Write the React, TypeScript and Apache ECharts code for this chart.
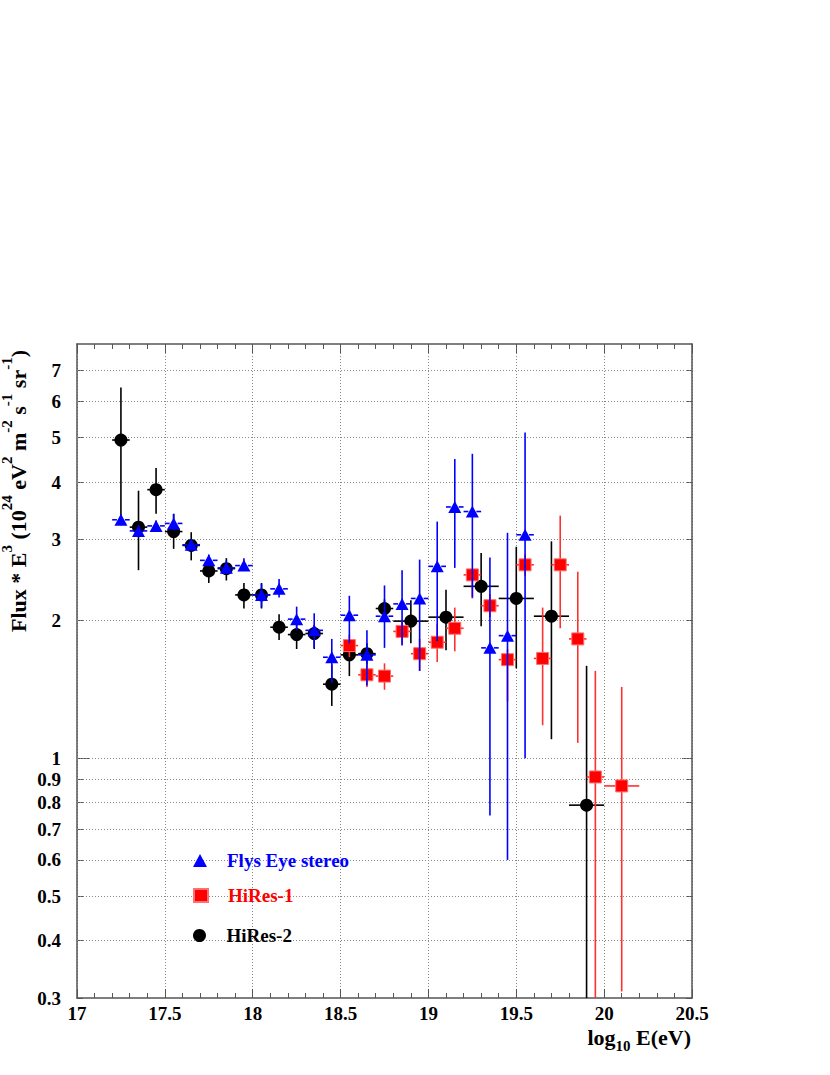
import React, { useEffect, useRef } from 'react';
import * as echarts from 'echarts';

// ---------- data ----------
const Y_MIN = 0.3;
const Y_MAX = 8;
const yTickValues = [0.3, 0.4, 0.5, 0.6, 0.7, 0.8, 0.9, 1, 2, 3, 4, 5, 6, 7];
const yGridValues = [0.4, 0.5, 0.6, 0.7, 0.8, 0.9, 1, 2, 3, 4, 5, 6, 7];

// Fly's Eye stereo
const flyX = [17.25, 17.35, 17.45, 17.55, 17.65, 17.75, 17.85, 17.95, 18.05, 18.15, 18.25, 18.35, 18.45, 18.55, 18.65, 18.75, 18.85, 18.95, 19.05, 19.15, 19.25, 19.35, 19.45, 19.55];
const flyY = [3.31, 3.13, 3.21, 3.25, 2.92, 2.70, 2.60, 2.63, 2.27, 2.34, 2.01, 1.90, 1.66, 2.05, 1.68, 2.04, 2.17, 2.23, 2.62, 3.53, 3.45, 1.74, 1.85, 3.07];
const flyLo = [3.22, 3.05, 3.13, 3.14, 2.85, 2.63, 2.52, 2.57, 2.13, 2.24, 1.90, 1.74, 1.46, 1.78, 1.44, 1.74, 1.76, 1.55, 1.80, 2.60, 2.24, 0.75, 0.60, 1.00];
const flyHi = [3.40, 3.22, 3.30, 3.41, 3.00, 2.78, 2.70, 2.73, 2.40, 2.46, 2.14, 2.07, 1.82, 2.26, 1.90, 2.38, 2.57, 2.71, 3.28, 4.49, 4.61, 2.74, 3.10, 5.13];
const flyXe = [0.05, 0.05, 0.05, 0.05, 0.05, 0.05, 0.05, 0.05, 0.05, 0.05, 0.05, 0.05, 0.05, 0.05, 0.05, 0.05, 0.05, 0.05, 0.05, 0.05, 0.05, 0.05, 0.05, 0.05];

// HiRes-1
const h1X = [18.55, 18.65, 18.75, 18.85, 18.95, 19.05, 19.15, 19.25, 19.35, 19.45, 19.55, 19.65, 19.75, 19.85, 19.95, 20.1];
const h1Y = [1.76, 1.52, 1.51, 1.89, 1.69, 1.79, 1.92, 2.51, 2.15, 1.64, 2.64, 1.65, 2.64, 1.82, 0.91, 0.87];
const h1Lo = [1.66, 1.43, 1.41, 1.77, 1.55, 1.62, 1.71, 2.23, 2.03, 1.33, 2.50, 1.18, 1.92, 1.08, 0.1, 0.31];
const h1Hi = [1.86, 1.60, 1.61, 2.00, 1.82, 1.96, 2.13, 2.58, 2.28, 1.73, 2.78, 2.13, 3.38, 2.55, 1.55, 1.43];
const h1Xe = [0.05, 0.05, 0.05, 0.05, 0.05, 0.05, 0.05, 0.05, 0.05, 0.05, 0.05, 0.05, 0.05, 0.05, 0.05, 0.1];

// HiRes-2
const h2X = [17.25, 17.35, 17.45, 17.55, 17.65, 17.75, 17.85, 17.95, 18.05, 18.15, 18.25, 18.35, 18.45, 18.55, 18.65, 18.75, 18.9, 19.1, 19.3, 19.5, 19.7, 19.9];
const h2Y = [4.94, 3.19, 3.85, 3.12, 2.91, 2.56, 2.59, 2.27, 2.27, 1.93, 1.86, 1.87, 1.45, 1.68, 1.69, 2.12, 1.99, 2.03, 2.37, 2.23, 2.04, 0.79];
const h2Lo = [3.35, 2.57, 3.41, 2.86, 2.70, 2.41, 2.44, 2.12, 2.12, 1.81, 1.73, 1.73, 1.30, 1.51, 1.60, 2.02, 1.78, 1.72, 1.94, 1.57, 1.10, 0.1];
const h2Hi = [6.43, 3.83, 4.29, 3.41, 3.11, 2.65, 2.73, 2.41, 2.41, 2.06, 1.97, 1.95, 1.60, 1.76, 1.78, 2.22, 2.21, 2.33, 2.80, 2.89, 2.97, 1.59];
const h2Xe = [0.05, 0.05, 0.05, 0.05, 0.05, 0.05, 0.05, 0.05, 0.05, 0.05, 0.05, 0.05, 0.05, 0.05, 0.05, 0.05, 0.1, 0.1, 0.1, 0.1, 0.1, 0.1];

const seriesNames = ['Flys Eye stereo', 'HiRes-1', 'HiRes-2'];

// ---------- styles ----------
const FONT = "'Liberation Serif', 'DejaVu Serif', serif";
const AX = '#555';
const GRID = '#888';
const BLUE = '#0000ff';
const RED = '#ff0000';
const BLACK = '#000000';

const rows = (xs: number[], ys: number[], lo: number[], hi: number[], xe: number[]) =>
  xs.map((x, i) => [x, ys[i], lo[i], hi[i], xe[i]]);

const makeErrorBars = (color: string) => (_params: any, api: any) => {
  const x = api.value(0);
  const y = api.value(1);
  const lo = api.value(2);
  const hi = api.value(3);
  const xe = api.value(4);
  const c = api.coord([x, y]);
  const l = api.coord([x - xe, y]);
  const r = api.coord([x + xe, y]);
  const t = api.coord([x, Math.min(hi, Y_MAX)]);
  const b = api.coord([x, Math.max(lo, Y_MIN)]);
  const gap = 4;
  const style = { stroke: color, lineWidth: 1.6 };
  const children: any[] = [];
  if (c[0] - gap > l[0]) children.push({ type: 'line', shape: { x1: l[0], y1: c[1], x2: c[0] - gap, y2: c[1] }, style });
  if (r[0] > c[0] + gap) children.push({ type: 'line', shape: { x1: c[0] + gap, y1: c[1], x2: r[0], y2: c[1] }, style });
  if (t[1] < c[1] - gap) children.push({ type: 'line', shape: { x1: c[0], y1: t[1], x2: c[0], y2: c[1] - gap }, style });
  if (b[1] > c[1] + gap) children.push({ type: 'line', shape: { x1: c[0], y1: c[1] + gap, x2: c[0], y2: b[1] }, style });
  return { type: 'group', children };
};

const fmt = (v: number) => String(Number(Number(v).toPrecision(3)));

export default function App() {
  const ref = useRef<HTMLDivElement>(null);

  useEffect(() => {
    if (!ref.current) return;
    const chart = echarts.init(ref.current, undefined, { renderer: 'svg' });

    const xCommon: any = {
      type: 'value',
      min: 17,
      max: 20.5,
      interval: 0.5,
      axisLine: { show: true, onZero: false, lineStyle: { color: AX, width: 1.5 } },
      axisTick: { show: true, inside: true, length: 9, lineStyle: { color: AX, width: 1 } },
      minorTick: { show: true, splitNumber: 5, length: 5, lineStyle: { color: AX, width: 1 } },
    };
    const yCommon: any = { type: 'log', logBase: 10, min: Y_MIN, max: Y_MAX };

    const legendCommon: any = {
      orient: 'vertical',
      left: 193,
      padding: 0,
      itemWidth: 14,
      itemHeight: 13,
      selectedMode: false,
      textStyle: { fontFamily: FONT, fontWeight: 'bold', fontSize: 19, padding: [0, 0, 0, 15] },
    };

    const gridLineStyle = { color: GRID, type: [1, 2], width: 1 };

    const option: any = {
      animation: false,
      backgroundColor: '#ffffff',
      grid: { left: 77, right: 138, top: 344, bottom: 77 },
      xAxis: [
        {
          ...xCommon,
          position: 'bottom',
          axisLabel: {
            show: true, margin: 6, color: '#000', fontFamily: FONT, fontWeight: 'bold', fontSize: 19,
            showMinLabel: true, showMaxLabel: true, formatter: (v: number) => fmt(v),
          },
          splitLine: { show: true, lineStyle: gridLineStyle },
        },
        {
          ...xCommon,
          position: 'top',
          axisLabel: { show: false },
          splitLine: { show: false },
        },
      ],
      yAxis: [
        {
          ...yCommon,
          position: 'left',
          axisLine: { show: true, onZero: false, lineStyle: { color: AX, width: 1.5 } },
          axisTick: { show: true, inside: true, length: 6, customValues: yTickValues, lineStyle: { color: AX, width: 1 } },
          axisLabel: {
            show: true, customValues: yTickValues, margin: 16, color: '#000', fontFamily: FONT,
            fontWeight: 'bold', fontSize: 19, formatter: (v: number) => fmt(v),
          },
          splitLine: { show: false },
          minorTick: { show: false },
          minorSplitLine: { show: false },
        },
        {
          ...yCommon,
          position: 'right',
          axisLine: { show: true, onZero: false, lineStyle: { color: AX, width: 1.5 } },
          axisTick: { show: true, inside: true, length: 6, customValues: yTickValues, lineStyle: { color: AX, width: 1 } },
          axisLabel: { show: false },
          splitLine: { show: false },
        },
        {
          ...yCommon,
          position: 'left',
          axisLine: { show: false },
          axisTick: { show: true, inside: true, length: 13, customValues: [1], lineStyle: { color: AX, width: 1 } },
          axisLabel: { show: false },
          splitLine: { show: false },
        },
        {
          ...yCommon,
          position: 'right',
          axisLine: { show: false },
          axisTick: { show: true, inside: true, length: 10, customValues: [1], lineStyle: { color: AX, width: 1 } },
          axisLabel: { show: false },
          splitLine: { show: false },
        },
      ],
      legend: [
        { ...legendCommon, top: 851, data: [{ name: seriesNames[0], textStyle: { color: BLUE } }] },
        { ...legendCommon, top: 886, data: [{ name: seriesNames[1], textStyle: { color: RED } }] },
        { ...legendCommon, top: 926, data: [{ name: seriesNames[2], textStyle: { color: BLACK } }] },
      ],
      graphic: [
        {
          type: 'text',
          x: 14,
          y: 491,
          rotation: Math.PI / 2,
          style: {
            text: '{b|Flux * E}{s|3}{b| (10}{s|24}{b| eV}{s|2}{b| m}{s|-2}{b| s}{s|-1}{b| sr}{s|-1}{b|)}',
            align: 'center',
            verticalAlign: 'middle',
            rich: {
              b: { fontFamily: FONT, fontWeight: 'bold', fontSize: 22, fill: '#000', verticalAlign: 'bottom' },
              s: { fontFamily: FONT, fontWeight: 'bold', fontSize: 15, fill: '#000', padding: [0, 0, 15, 0] },
            },
          },
        },
        {
          type: 'text',
          x: 691,
          y: 1040,
          style: {
            text: '{b|log}{s|10}{b| E(eV)}',
            align: 'right',
            verticalAlign: 'middle',
            rich: {
              b: { fontFamily: FONT, fontWeight: 'bold', fontSize: 22, fill: '#000', verticalAlign: 'top' },
              s: { fontFamily: FONT, fontWeight: 'bold', fontSize: 15, fill: '#000', padding: [12, 0, 0, 0] },
            },
          },
        },
      ],
      series: [
        {
          type: 'custom', name: 'HiRes-2 err', xAxisIndex: 0, yAxisIndex: 0, clip: true, z: 2,
          renderItem: makeErrorBars(BLACK), data: rows(h2X, h2Y, h2Lo, h2Hi, h2Xe), encode: { x: 0, y: 1 },
        },
        {
          type: 'scatter', name: seriesNames[2], xAxisIndex: 0, yAxisIndex: 0, z: 3,
          symbol: 'circle', symbolSize: 13, itemStyle: { color: BLACK, opacity: 1 },
          data: h2X.map((x, i) => [x, h2Y[i]]),
          markLine: {
            z: 1, silent: true, symbol: ['none', 'none'], label: { show: false }, animation: false,
            lineStyle: gridLineStyle,
            emphasis: { disabled: true },
            data: yGridValues.map((v) => ({ yAxis: v })),
          },
        },
        {
          type: 'custom', name: 'HiRes-1 err', xAxisIndex: 0, yAxisIndex: 0, clip: true, z: 4,
          renderItem: makeErrorBars('#ff3030'), data: rows(h1X, h1Y, h1Lo, h1Hi, h1Xe), encode: { x: 0, y: 1 },
        },
        {
          type: 'scatter', name: seriesNames[1], xAxisIndex: 0, yAxisIndex: 0, z: 5,
          symbol: 'rect', symbolSize: 12, itemStyle: { color: RED, borderColor: '#ff7070', borderWidth: 1, opacity: 1 },
          data: h1X.map((x, i) => [x, h1Y[i]]),
        },
        {
          type: 'custom', name: 'Flys Eye err', xAxisIndex: 0, yAxisIndex: 0, clip: true, z: 6,
          renderItem: makeErrorBars(BLUE), data: rows(flyX, flyY, flyLo, flyHi, flyXe), encode: { x: 0, y: 1 },
        },
        {
          type: 'scatter', name: seriesNames[0], xAxisIndex: 0, yAxisIndex: 0, z: 7,
          symbol: 'triangle', symbolSize: [13, 12], itemStyle: { color: BLUE, opacity: 1 },
          data: flyX.map((x, i) => [x, flyY[i]]),
        },
      ],
    };

    chart.setOption(option);
    return () => chart.dispose();
  }, []);

  return (
    <div
      ref={ref}
      style={{ position: 'absolute', left: 0, top: 0, width: 830, height: 1075, background: '#fff' }}
    />
  );
}
